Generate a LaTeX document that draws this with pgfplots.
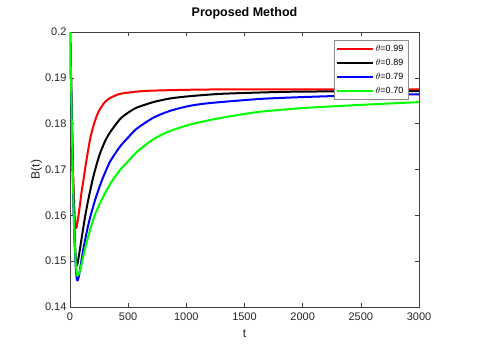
\documentclass[border=0pt]{standalone}
\usepackage{pgfplots}
\pgfplotsset{compat=1.18}
\usepackage{fontspec}
\setmainfont{Liberation Sans}
\definecolor{axgray}{gray}{0.25}
\begin{document}
\begin{tikzpicture}
\begin{axis}[
  scale only axis,
  width=349pt, height=275pt,
  at={(0,0)}, anchor=south west,
  xmin=0, xmax=3000, ymin=0.14, ymax=0.2,
  xtick={0,500,1000,1500,2000,2500,3000},
  xticklabels={0,500,1000,1500,2000,2500,3000},
  ytick={0.14,0.15,0.16,0.17,0.18,0.19,0.2},
  yticklabels={0.14,0.15,0.16,0.17,0.18,0.19,0.2},
  tick align=inside,
  major tick length=4pt,
  axis line style={axgray, line width=0.5pt},
  every tick/.style={axgray, line width=0.5pt},
  tick label style={font=\fontsize{11}{13}\selectfont, text=black!85},
  xticklabel style={yshift=-2pt},
  xlabel={t}, ylabel={B(t)},
  label style={font=\fontsize{12}{14}\selectfont, text=black!85},
  xlabel style={yshift=-3pt},
  ylabel style={yshift=-4pt},
  title={\textbf{Proposed Method}},
  title style={font=\fontsize{12.5}{14}\selectfont, yshift=3pt},
  legend style={at={(rel axis cs:0.9685,0.971)}, anchor=north east,
    font=\fontsize{9}{11}\selectfont, draw=black!45, line width=0.5pt,
    row sep=2.3pt, inner sep=2.5pt},
  legend cell align=left,
  legend image code/.code={\draw[#1, line width=2pt] (0cm,0cm) -- (1.25cm,0cm);},
  every axis plot/.append style={line width=2pt, line join=round, smooth, tension=0.4},
]
\addplot[red] coordinates {
(0,0.2) (10,0.189) (20,0.177) (30,0.1665) (40,0.160) (47,0.1579) (52,0.1572)
(60,0.1578) (75,0.1603) (90,0.1632) (100,0.1652) (115,0.1676) (140,0.1718) (172,0.1765)
(200,0.1794) (230,0.1817) (258,0.1832) (300,0.1847) (344,0.1856) (430,0.1865) (573,0.1870)
(700,0.1872) (1031,0.1874) (1500,0.1875) (3000,0.1875)};
\addlegendentry{$\theta$=0.99}
\addplot[black] coordinates {
(0,0.2) (10,0.188) (20,0.175) (30,0.1635) (40,0.1555) (50,0.1505) (57,0.149)
(65,0.1495) (86,0.1527) (108,0.1563) (129,0.1596) (150,0.1625) (172,0.1652) (200,0.1684)
(230,0.1712) (258,0.1735) (300,0.1761) (344,0.1781) (430,0.1810) (500,0.1824) (573,0.1835)
(716,0.1847) (860,0.1855) (1031,0.1860) (1290,0.1865) (1634,0.1868) (2000,0.1870) (3000,0.1871)};
\addlegendentry{$\theta$=0.89}
\addplot[blue] coordinates {
(0,0.2) (10,0.188) (20,0.174) (30,0.162) (40,0.1535) (50,0.1485) (58,0.1462) (65,0.1458)
(75,0.1465) (86,0.1482) (115,0.1527) (150,0.1571) (178,0.1600) (215,0.1633) (244,0.1655)
(280,0.1680) (344,0.1717) (430,0.1750) (500,0.1770) (573,0.1789) (716,0.1813) (860,0.1828)
(1031,0.1839) (1204,0.1845) (1634,0.1854) (2000,0.1858) (2500,0.1862) (3000,0.1864)};
\addlegendentry{$\theta$=0.79}
\addplot[green] coordinates {
(0,0.2) (10,0.188) (20,0.174) (30,0.1625) (40,0.1545) (50,0.1495) (58,0.1472) (63,0.1468)
(75,0.1472) (92,0.1485) (129,0.1527) (170,0.1566) (215,0.1602) (265,0.1630) (315,0.1655)
(367,0.1677) (430,0.1699) (500,0.1718) (573,0.1738) (716,0.1766) (860,0.1784) (1031,0.1798)
(1204,0.1808) (1400,0.1817) (1634,0.1826) (2000,0.1834) (2500,0.1841) (3000,0.1847)};
\addlegendentry{$\theta$=0.70}
\end{axis}
\pgfresetboundingbox
\path[use as bounding box] (-70pt,-41pt) rectangle (419pt,307pt);
\end{tikzpicture}
\end{document}
